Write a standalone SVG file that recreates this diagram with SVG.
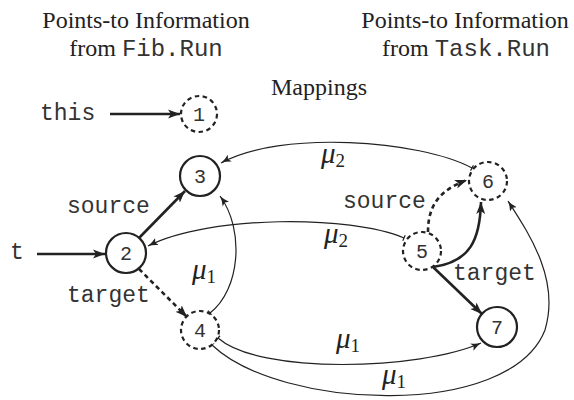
<svg xmlns="http://www.w3.org/2000/svg" width="574" height="400" viewBox="0 0 574 400">
  <style>
    .hdr { font-family: "Liberation Serif", "Times New Roman", serif; font-size: 24px; fill: #222; }
    .mono { font-family: "Liberation Mono", "Courier New", monospace; fill: #333; }
    .lbl { font-size: 23px; }
    .num { font-size: 20px; text-anchor: middle; }
    .mu { font-family: "Liberation Serif", "Times New Roman", serif; font-style: italic; font-size: 29px; fill: #222; }
    .sub { font-style: normal; font-size: 19px; }
    .node { fill: #fff; stroke: #222; stroke-width: 2.2; }
    .dash { stroke-dasharray: 4.5 3.5; }
    .thick { fill: none; stroke: #222; stroke-width: 2.6; }
    .thin { fill: none; stroke: #222; stroke-width: 1.2; marker-start: url(#tick); marker-end: url(#headThin); }
  </style>
  <defs>
    <marker id="headThick" markerUnits="userSpaceOnUse" markerWidth="14" markerHeight="10" refX="12" refY="5" orient="auto">
      <path d="M0,0.5 L12,5 L0,9.5 L3,5 z" fill="#222"/>
    </marker>
    <marker id="headThin" markerUnits="userSpaceOnUse" markerWidth="12" markerHeight="10" refX="10" refY="5" orient="auto">
      <path d="M0,1 Q5,4 10,5 Q5,6 0,9 L2,5 z" fill="#222"/>
    </marker>
    <marker id="tick" markerUnits="userSpaceOnUse" markerWidth="4" markerHeight="10" refX="2" refY="5" orient="auto">
      <line x1="2" y1="2" x2="2" y2="8" stroke="#222" stroke-width="1.2"/>
    </marker>
  </defs>

  <!-- headings -->
  <text class="hdr" x="146" y="28" text-anchor="middle">Points-to Information</text>
  <text class="hdr" x="146" y="56" text-anchor="middle">from <tspan class="mono">Fib.Run</tspan></text>
  <text class="hdr" x="465" y="28" text-anchor="middle">Points-to Information</text>
  <text class="hdr" x="466" y="56" text-anchor="middle">from <tspan class="mono">Task.Run</tspan></text>
  <text class="hdr" x="319" y="95" text-anchor="middle">Mappings</text>

  <!-- variable names -->
  <text class="mono lbl" x="40" y="120">this</text>
  <text class="mono lbl" x="10" y="259">t</text>

  <!-- connectors -->
  <g id="connectors">
    <line class="thick" x1="110" y1="114" x2="180" y2="114" marker-end="url(#headThick)"/>
    <line class="thick" x1="37" y1="254" x2="105" y2="254" marker-end="url(#headThick)"/>
    <line class="thick" x1="139" y1="238" x2="185" y2="191" marker-end="url(#headThick)"/>
    <line class="thick dash" x1="139" y1="269" x2="187" y2="317" marker-end="url(#headThick)"/>
    <path class="thick dash" d="M428,232 C428,205 440,190 467,180" marker-end="url(#headThick)"/>
    <path class="thick" d="M433,267 C470,262 480,240 481,202" marker-end="url(#headThick)"/>
    <line class="thick" x1="433" y1="267" x2="482" y2="314" marker-end="url(#headThick)"/>

    <path class="thin" d="M472,168 C420,140 280,130 221,163"/>
    <path class="thin" d="M404,238 C350,215 210,215 148,246"/>
    <path class="thin" d="M210,313 C240,290 245,230 220,196"/>
    <path class="thin" d="M218,338 C260,375 420,370 481,343"/>
    <path class="thin" d="M212,345 C280,410 510,420 545,330 C560,280 530,235 508,201"/>
  </g>

  <!-- edge labels -->
  <text class="mono lbl" x="67" y="213">source</text>
  <text class="mono lbl" x="67" y="302">target</text>
  <text class="mono lbl" x="343" y="208">source</text>
  <text class="mono lbl" x="453" y="280">target</text>

  <text class="mu" x="321" y="163">μ<tspan class="sub" dy="4">2</tspan></text>
  <text class="mu" x="324" y="243">μ<tspan class="sub" dy="4">2</tspan></text>
  <text class="mu" x="192" y="279">μ<tspan class="sub" dy="4">1</tspan></text>
  <text class="mu" x="336" y="348">μ<tspan class="sub" dy="4">1</tspan></text>
  <text class="mu" x="382" y="384">μ<tspan class="sub" dy="4">1</tspan></text>

  <!-- nodes -->
  <g id="node1"><circle class="node dash" cx="199" cy="114" r="18"/><text class="mono num" x="199" y="121">1</text></g>
  <g id="node2"><circle class="node" cx="126" cy="253" r="20"/><text class="mono num" x="126" y="260">2</text></g>
  <g id="node3"><circle class="node" cx="200" cy="176" r="20"/><text class="mono num" x="200" y="183">3</text></g>
  <g id="node4"><circle class="node dash" cx="200" cy="330" r="19"/><text class="mono num" x="200" y="337">4</text></g>
  <g id="node5"><circle class="node dash" cx="422" cy="251" r="19"/><text class="mono num" x="422" y="258">5</text></g>
  <g id="node6"><circle class="node dash" cx="488" cy="181" r="19"/><text class="mono num" x="488" y="188">6</text></g>
  <g id="node7"><circle class="node" cx="497" cy="327" r="20"/><text class="mono num" x="497" y="334">7</text></g>
</svg>
